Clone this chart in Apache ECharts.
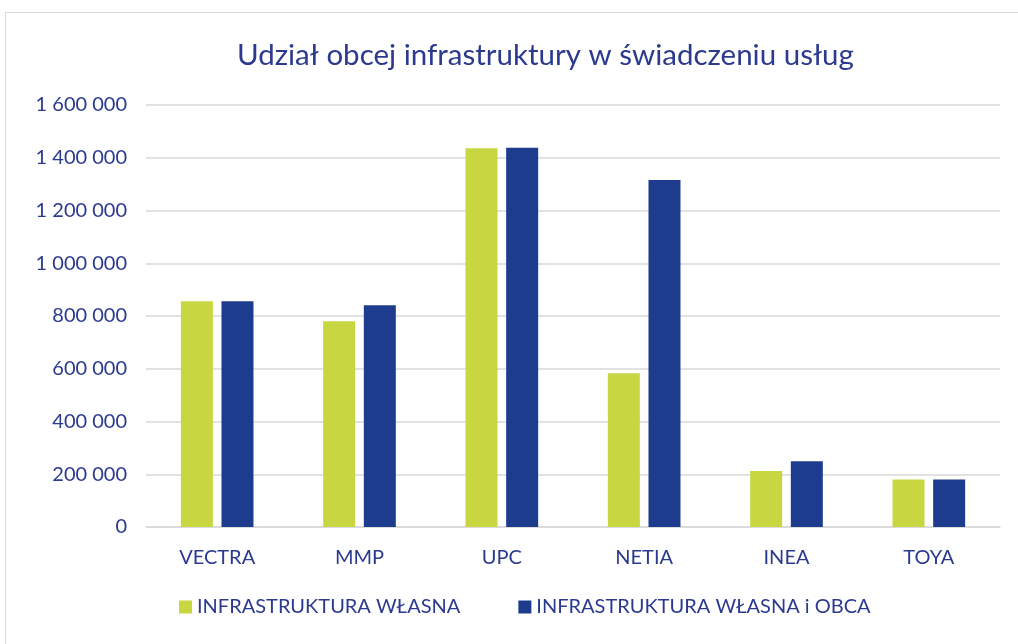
<!DOCTYPE html>
<html>
<head>
<meta charset="utf-8">
<script src="https://cdn.jsdelivr.net/npm/echarts@6/dist/echarts.min.js"></script>
<style>
  html, body { margin: 0; padding: 0; background: #fff; }
  #chart { width: 1018px; height: 644px; }
</style>
</head>
<body>
<div id="chart"></div>
<script>
const categories = ['VECTRA', 'MMP', 'UPC', 'NETIA', 'INEA', 'TOYA']
const ownInfra = [856000, 780000, 1436000, 583000, 212000, 180000]
const ownAndShared = [856000, 841000, 1438000, 1316000, 249000, 180000]
const seriesNames = ['INFRASTRUKTURA WŁASNA', 'INFRASTRUKTURA WŁASNA i OBCA']

const textColor = '#2b3a8f'
const fontFamily = 'Lato, "Open Sans", sans-serif'

const fmt = (v) => String(v).replace(/\B(?=(\d{3})+(?!\d))/g, ' ')

const chart = echarts.init(document.getElementById('chart'))

chart.setOption({
  animation: false,
  backgroundColor: '#fff',
  textStyle: { fontFamily: fontFamily },
  graphic: [
    {
      type: 'rect',
      shape: { x: 5.5, y: 12.5, width: 1040, height: 700 },
      style: { fill: 'none', stroke: '#d9d9d9', lineWidth: 1 },
      silent: true
    }
  ],
  title: {
    text: 'Udział obcej infrastruktury w świadczeniu usług',
    left: 232,
    top: 35,
    textStyle: { color: textColor, fontSize: 29.5, fontWeight: 'normal', fontFamily: fontFamily }
  },
  legend: {
    data: seriesNames,
    bottom: 22,
    left: 174,
    itemWidth: 13,
    itemHeight: 13,
    itemGap: 58,
    icon: 'rect',
    textStyle: { color: textColor, fontSize: 20, fontFamily: fontFamily }
  },
  grid: { left: 146, right: 18, top: 105, bottom: 117 },
  xAxis: {
    type: 'category',
    data: categories,
    axisTick: { show: false },
    axisLine: { lineStyle: { color: '#d9d9d9', width: 1.5 } },
    axisLabel: { color: textColor, fontSize: 20, margin: 21, fontFamily: fontFamily }
  },
  yAxis: {
    type: 'value',
    min: 0,
    max: 1600000,
    interval: 200000,
    axisLine: { show: false },
    axisTick: { show: false },
    splitLine: { lineStyle: { color: '#d9d9d9', width: 1.5 } },
    axisLabel: { color: textColor, fontSize: 20, margin: 19, fontFamily: fontFamily, formatter: fmt }
  },
  series: [
    {
      name: seriesNames[0],
      type: 'bar',
      data: ownInfra,
      barWidth: 32,
      barGap: '27%',
      itemStyle: { color: '#c8d641' }
    },
    {
      name: seriesNames[1],
      type: 'bar',
      data: ownAndShared,
      barWidth: 32,
      itemStyle: { color: '#1e3c8d' }
    }
  ]
})
</script>
</body>
</html>
